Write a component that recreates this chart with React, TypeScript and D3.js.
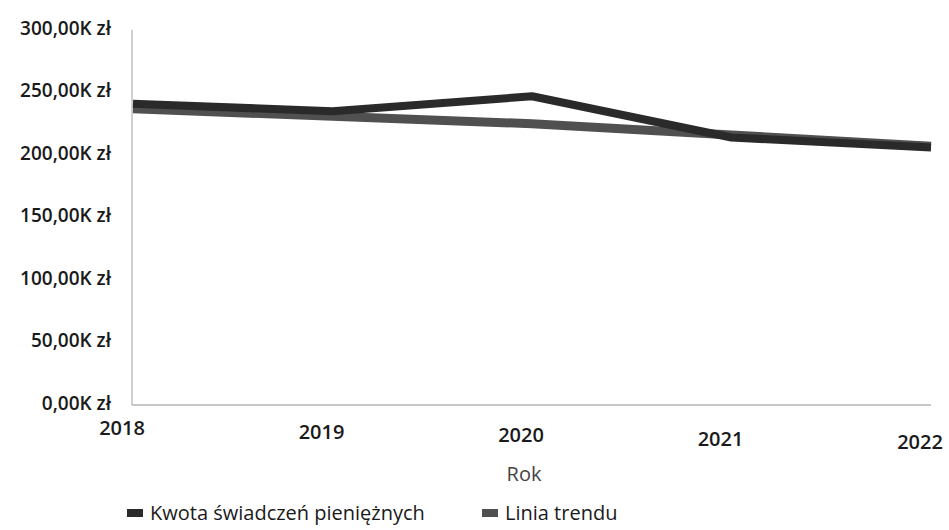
import React from "react";
import * as d3 from "d3";

const years = ["2018", "2019", "2020", "2021", "2022"];
const amounts = [241, 235, 247, 214, 206]; // thousands zł
const trend = [237, 231, 225, 216, 207];
const yTicks = [0, 50, 100, 150, 200, 250, 300];
const seriesNames = ["Kwota świadczeń pieniężnych", "Linia trendu"];
const seriesColors = ["#2a2a2a", "#505050"];

const W = 949, H = 530;
const left = 133, right = 931, top = 30, bottom = 405;

export default function App() {
  const x = d3.scalePoint<string>().domain(years).range([left, right]);
  const y = d3.scaleLinear().domain([0, 300]).range([bottom, top]);
  const line = d3.line<number>().x((_, i) => x(years[i])!).y((d) => y(d));
  const fmt = (v: number) => `${v.toFixed(2).replace(".", ",")}K zł`;
  const font = "'Open Sans', 'Noto Sans', sans-serif";
  return (
    <svg width={W} height={H} style={{ position: "absolute", left: 0, top: 0, background: "#fff" }}>
      <line x1={left - 1} x2={left - 1} y1={top} y2={bottom} stroke="#a0a0a0" strokeWidth={1} />
      <line x1={left - 1} x2={right} y1={bottom} y2={bottom} stroke="#b5b5b5" strokeWidth={1.5} />
      {yTicks.map((t) => (
        <text key={t} x={111} y={y(t) - 2} dy="0.35em" textAnchor="end" fontFamily={font} fontSize={19} fontWeight={600} fill="#1a1a1a">
          {fmt(t)}
        </text>
      ))}
      {years.map((yr, i) => (
        <text key={yr} x={x(yr)! - 11} y={428 + i * 3.5} dy="0.35em" textAnchor="middle" fontFamily={font} fontSize={20} fontWeight={600} fill="#1a1a1a">
          {yr}
        </text>
      ))}
      <text x={524} y={474} dy="0.35em" textAnchor="middle" fontFamily={font} fontSize={20} fill="#444">
        Rok
      </text>
      <path d={line(trend)!} fill="none" stroke={seriesColors[1]} strokeWidth={9} />
      <path d={line(amounts)!} fill="none" stroke={seriesColors[0]} strokeWidth={8} strokeLinejoin="round" />
      {seriesNames.map((n, i) => {
        const lx = i === 0 ? 127 : 482;
        return (
          <g key={n}>
            <rect x={lx} y={509} width={16} height={8} fill={seriesColors[i]} />
            <text x={lx + 23} y={513} dy="0.35em" fontFamily={font} fontSize={20} fontWeight={500} fill="#1a1a1a">
              {n}
            </text>
          </g>
        );
      })}
    </svg>
  );
}
